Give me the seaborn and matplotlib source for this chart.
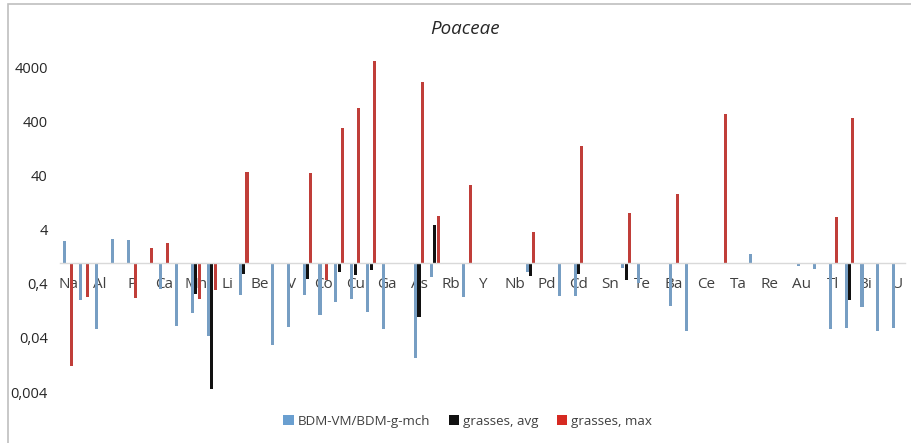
import numpy as np
import pandas as pd
import matplotlib
matplotlib.use("Agg")
import matplotlib.pyplot as plt
import seaborn as sns
from matplotlib.patches import Rectangle, Patch

nan = np.nan
categories = ["Na", "Mg", "Al", "Si", "P", "K", "Ca", "Ti", "Mn", "Fe",
              "Li", "B", "Be", "Sc", "V", "Cr", "Co", "Ni", "Cu", "Zn",
              "Ga", "Ge", "As", "Se", "Rb", "Sr", "Y", "Zr", "Nb", "Mo",
              "Pd", "Ag", "Cd", "In", "Sn", "Sb", "Te", "Cs", "Ba", "La",
              "Ce", "Nd", "Ta", "W", "Re", "Pt", "Au", "Hg", "Tl", "Pb",
              "Bi", "Th", "U"]
bdm_ratio = [2.45, 0.198, 0.058, 2.7, 2.65, nan, 0.33, 0.067, 0.116, 0.044,
             nan, 0.245, nan, 0.030, 0.064, 0.245, 0.107, 0.185, 0.21, 0.119,
             0.059, nan, 0.017, 0.55, nan, 0.23, nan, nan, nan, 0.66,
             nan, 0.235, 0.235, nan, nan, 0.8, 0.415, nan, 0.158, 0.054,
             nan, nan, nan, 1.45, nan, nan, 0.87, 0.755, 0.058, 0.061,
             0.147, 0.053, 0.061]
grasses_avg = [nan, nan, nan, nan, nan, nan, nan, nan, 0.26, 0.0046,
               nan, 0.62, nan, nan, nan, 0.49, nan, 0.68, 0.59, 0.73,
               nan, nan, 0.096, 5.0, nan, nan, nan, nan, nan, 0.57,
               nan, nan, 0.62, nan, nan, 0.48, nan, nan, nan, nan,
               nan, nan, nan, nan, nan, nan, nan, nan, nan, 0.2,
               nan, nan, nan]
grasses_max = [0.012, 0.225, nan, nan, 0.22, 1.87, 2.25, nan, 0.21, 0.31,
               nan, 48, nan, nan, nan, 45, 0.48, 312, 723, 5430,
               nan, nan, 2190, 7.3, nan, 27.5, nan, nan, nan, 3.7,
               nan, nan, 141, nan, nan, 8.2, nan, nan, 18.5, nan,
               nan, 570, nan, nan, nan, nan, nan, nan, 7.1, 472,
               nan, nan, nan]
series_names = ["BDM-VM/BDM-g-mch", "grasses, avg", "grasses, max"]
series_colors = ["#6A9FD0", "#111111", "#D62A22"]
ytick_vals = [0.004, 0.04, 0.4, 4, 40, 400, 4000]
ytick_labels = ["0,004", "0,04", "0,4", "4", "40", "400", "4000"]

rows = []
for name, vals in zip(series_names, [bdm_ratio, grasses_avg, grasses_max]):
    for c, v in zip(categories, vals):
        rows.append({"element": c, "series": name, "value": v})
df = pd.DataFrame(rows)
df["delta"] = df["value"] - 1.0  # bars drawn from the axis crossing at 1

sns.set_style("white")
plt.rcParams["font.family"] = ["Open Sans", "DejaVu Sans"]

fig = plt.figure(figsize=(9.12, 4.43), dpi=100)
W, H = 912, 443
left_px, right_px = 60.3, 905.2
top_px, bot_px = 46.5, 392.0
ax = fig.add_axes([left_px / W, 1 - bot_px / H, (right_px - left_px) / W, (bot_px - top_px) / H])

sns.barplot(data=df, x="element", y="delta", hue="series", order=categories,
            hue_order=series_names, palette=series_colors, width=0.63,
            gap=0.08, bottom=1.0, linewidth=0, ax=ax, legend=False)

ax.set_yscale("log")
ax.set_ylim(0.004, 10000)
ax.set_xlim(-0.5, len(categories) - 0.5)
ax.set_yticks(ytick_vals)
ax.set_yticklabels(ytick_labels)
ax.yaxis.set_minor_locator(matplotlib.ticker.NullLocator())
ax.set_xticks(range(0, len(categories), 2))
ax.set_xticklabels(categories[::2])
ax.set_xlabel("")
ax.set_ylabel("")
for s in ["left", "right", "top"]:
    ax.spines[s].set_visible(False)
ax.spines["bottom"].set_position(("data", 1.0))
ax.spines["bottom"].set_color("#D9D9D9")
ax.spines["bottom"].set_linewidth(1.0)
ax.tick_params(axis="x", length=0, pad=10.5, labelsize=11, labelcolor="#404040")
ax.tick_params(axis="y", length=0, pad=9, labelsize=10.5, labelcolor="#262626")
ax.set_facecolor("none")

handles = [Patch(facecolor=c, edgecolor="none") for c in series_colors]
fig.legend(handles, series_names, ncol=3, frameon=False, loc="center",
           bbox_to_anchor=(467.5 / W, 1 - 421 / H), handlelength=0.8,
           handleheight=0.8, handletextpad=0.25, columnspacing=1.4,
           fontsize=9.6, labelcolor="#404040")

fig.text(464.7 / W, 1 - 29 / H, "Poaceae", ha="center", va="center",
         fontsize=13.5, style="italic", color="#262626")

fig.patches.append(Rectangle((8 / W, -0.05), 1.1, 1 - 4 / H + 0.05,
                             transform=fig.transFigure, fill=False,
                             edgecolor="#BFBFBF", linewidth=1.2))

fig.savefig("out.png", dpi=100)
